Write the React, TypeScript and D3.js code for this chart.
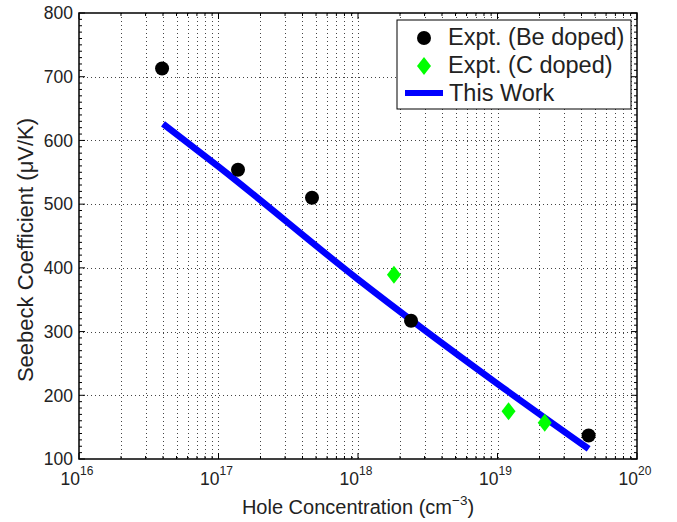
import React from "react";
import * as d3 from "d3";

const beX = [3.94e16, 1.38e17, 4.68e17, 2.4e18, 4.5e19];
const beY = [713, 554, 510, 317, 137];
const cX = [1.81e18, 1.2e19, 2.18e19];
const cY = [389, 175, 157];
const lineX = [4e16, 1e17, 1e18, 1e19, 4.5e19];
const lineY = [626, 559, 382, 218, 116];
const xTickExps = [16, 17, 18, 19, 20];
const yTicks = [100, 200, 300, 400, 500, 600, 700, 800];

const W = 677, H = 522;
const L = 79, R = 637, T = 13, B = 459;

export default function App() {
  const x = d3.scaleLog().domain([1e16, 1e20]).range([L, R]);
  const y = d3.scaleLinear().domain([100, 800]).range([B, T]);
  const minorX: number[] = [];
  for (let e = 16; e < 20; e++) for (let m = 2; m <= 9; m++) minorX.push(m * Math.pow(10, e));
  const minorY: number[] = [];
  for (let v = 110; v < 800; v += 10) if (v % 100 !== 0) minorY.push(v);
  const line = d3.line<number>().x((_, i) => x(lineX[i])).y((d) => y(d)).curve(d3.curveMonotoneX);
  const font = "Liberation Sans, Arial, Helvetica, sans-serif";
  const grid = { stroke: "#444", strokeWidth: 1, strokeDasharray: "1,3" };
  const diamond = (cx: number, cy: number) => `M${cx},${cy - 9}L${cx + 7},${cy}L${cx},${cy + 9}L${cx - 7},${cy}Z`;
  return (
    <svg width={W} height={H} style={{ position: "absolute", left: 0, top: 0, background: "#fff" }} fontFamily={font}>
      <rect x={0} y={0} width={W} height={H} fill="#fff" />
      {/* grid */}
      {[...minorX, ...xTickExps.slice(1, -1).map((e) => Math.pow(10, e))].map((v, i) => (
        <line key={"gx" + i} x1={Math.round(x(v)) + 0.5} x2={Math.round(x(v)) + 0.5} y1={T} y2={B} {...grid} />
      ))}
      {yTicks.slice(1, -1).map((v, i) => (
        <line key={"gy" + i} x1={L} x2={R} y1={Math.round(y(v)) + 0.5} y2={Math.round(y(v)) + 0.5} {...grid} />
      ))}
      {/* ticks */}
      {minorX.map((v, i) => (
        <g key={"mx" + i} stroke="#000" strokeWidth={1}>
          <line x1={x(v)} x2={x(v)} y1={B} y2={B - 3} />
          <line x1={x(v)} x2={x(v)} y1={T} y2={T + 3} />
        </g>
      ))}
      {xTickExps.map((e, i) => (
        <g key={"tx" + i} stroke="#000" strokeWidth={1}>
          <line x1={x(Math.pow(10, e))} x2={x(Math.pow(10, e))} y1={B} y2={B - 6} />
          <line x1={x(Math.pow(10, e))} x2={x(Math.pow(10, e))} y1={T} y2={T + 6} />
        </g>
      ))}
      {minorY.map((v, i) => (
        <g key={"my" + i} stroke="#000" strokeWidth={1}>
          <line x1={L} x2={L + 3} y1={y(v)} y2={y(v)} />
          <line x1={R} x2={R - 3} y1={y(v)} y2={y(v)} />
        </g>
      ))}
      {yTicks.map((v, i) => (
        <g key={"ty" + i} stroke="#000" strokeWidth={1}>
          <line x1={L} x2={L + 6} y1={y(v)} y2={y(v)} />
          <line x1={R} x2={R - 6} y1={y(v)} y2={y(v)} />
        </g>
      ))}
      {/* data line */}
      <path d={line(lineY) || ""} fill="none" stroke="#0000ff" strokeWidth={6.5} />
      {beX.map((v, i) => (
        <circle key={"be" + i} cx={x(v)} cy={y(beY[i])} r={7} fill="#000" />
      ))}
      {cX.map((v, i) => (
        <path key={"c" + i} d={diamond(x(v), y(cY[i]))} fill="#00ff00" />
      ))}
      {/* frame */}
      <rect x={L} y={T} width={R - L} height={B - T} fill="none" stroke="#000" strokeWidth={1.5} />
      {/* tick labels */}
      {yTicks.map((v, i) => (
        <text key={"yl" + i} x={L - 6} y={y(v)} dy="0.36em" textAnchor="end" fontSize={17.5} fill="#222">{v}</text>
      ))}
      {xTickExps.map((e, i) => (
        <text key={"xl" + i} x={x(Math.pow(10, e)) - 2} y={485} textAnchor="middle" fontSize={17.5} fill="#222">
          10<tspan dy={-10} fontSize={12}>{e}</tspan>
        </text>
      ))}
      {/* axis labels */}
      <text x={358} y={514} textAnchor="middle" fontSize={20} fill="#222">
        Hole Concentration (cm<tspan dy={-9} fontSize={13.5}>−3</tspan><tspan dy={9}>)</tspan>
      </text>
      <text transform={`translate(33,250) rotate(-90)`} textAnchor="middle" fontSize={22} fill="#222">
        Seebeck Coefficient (μV/K)
      </text>
      {/* legend */}
      <rect x={397} y={20} width={234} height={89} fill="#fff" stroke="#000" strokeWidth={1} />
      <circle cx={424} cy={38} r={7} fill="#000" />
      <path d={diamond(424, 66)} fill="#00ff00" />
      <line x1={405} x2={443} y1={93} y2={93} stroke="#0000ff" strokeWidth={6} />
      <text x={448} y={37} dy="0.36em" fontSize={23.5} fill="#222">Expt. (Be doped)</text>
      <text x={448} y={65} dy="0.36em" fontSize={23.5} fill="#222">Expt. (C doped)</text>
      <text x={449} y={93} dy="0.36em" fontSize={23.5} fill="#222">This Work</text>
    </svg>
  );
}
